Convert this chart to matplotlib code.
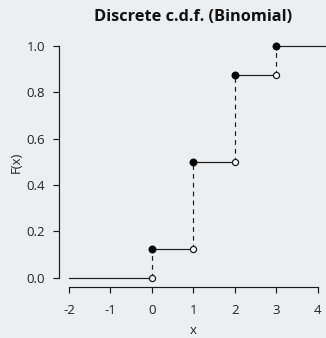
import matplotlib
matplotlib.use("Agg")
import matplotlib.pyplot as plt

# data
x_support = [0, 1, 2, 3]
cdf_vals = [0.125, 0.5, 0.875, 1.0]
x_start = -2
x_ticks = [-2, -1, 0, 1, 2, 3, 4]
y_ticks = [0.0, 0.2, 0.4, 0.6, 0.8, 1.0]
y_ticklabels = ["0.0", "0.2", "0.4", "0.6", "0.8", "1.0"]
title = "Discrete c.d.f. (Binomial)"

bg = "#eceff1"
plt.rcParams['font.family'] = ['Open Sans', 'DejaVu Sans']

fig = plt.figure(figsize=(3.26, 3.38), dpi=100, facecolor=bg)
ax = fig.add_axes([59/326, 1-287/338, (327.6-59)/326, (287-36.7)/338])
ax.set_facecolor(bg)
ax.set_xlim(-2.24, 4.24)
ax.set_ylim(-0.04, 1.04)

lc = "#1a1a1a"
lw = 0.85
ax.plot([x_start, x_support[0]], [0, 0], color=lc, lw=lw, zorder=2)
for i, (xv, yv) in enumerate(zip(x_support, cdf_vals)):
    xe = x_support[i+1] if i+1 < len(x_support) else 5.0
    ax.plot([xv, xe], [yv, yv], color=lc, lw=lw, zorder=2)
    lower = cdf_vals[i-1] if i > 0 else 0.0
    ax.plot([xv, xv], [lower, yv], color=lc, lw=lw, ls=(0, (4, 3.5)), zorder=1)
    ax.plot(xv, lower, 'o', ms=4.4, mfc='white', mec=lc, mew=0.9, zorder=4)
    ax.plot(xv, yv, 'o', ms=5.2, mfc='black', mec='black', mew=0.5, zorder=4)

for s in ['top', 'right']:
    ax.spines[s].set_visible(False)
ax.spines['left'].set_bounds(0, 1)
ax.spines['bottom'].set_bounds(-2, 4)
for s in ['left', 'bottom']:
    ax.spines[s].set_linewidth(lw)
    ax.spines[s].set_color(lc)

ax.set_xticks(x_ticks)
ax.set_xticklabels([str(t) for t in x_ticks])
ax.set_yticks(y_ticks)
ax.set_yticklabels(y_ticklabels)
ax.tick_params(axis='both', length=4, width=lw, color=lc, labelsize=9.5, labelcolor='#222222')
ax.tick_params(axis='y', pad=6)
ax.tick_params(axis='x', pad=8)
ax.set_xlabel("x", fontsize=9.5, color='#222222', labelpad=5)
ax.set_ylabel("F(x)", fontsize=9.5, color='#222222', labelpad=3)
fig.text(193/326, 1-17/338, title, ha='center', va='center', fontsize=11.8, fontweight='bold', color='#111111')

fig.savefig("out.png", dpi=100, facecolor=bg)
